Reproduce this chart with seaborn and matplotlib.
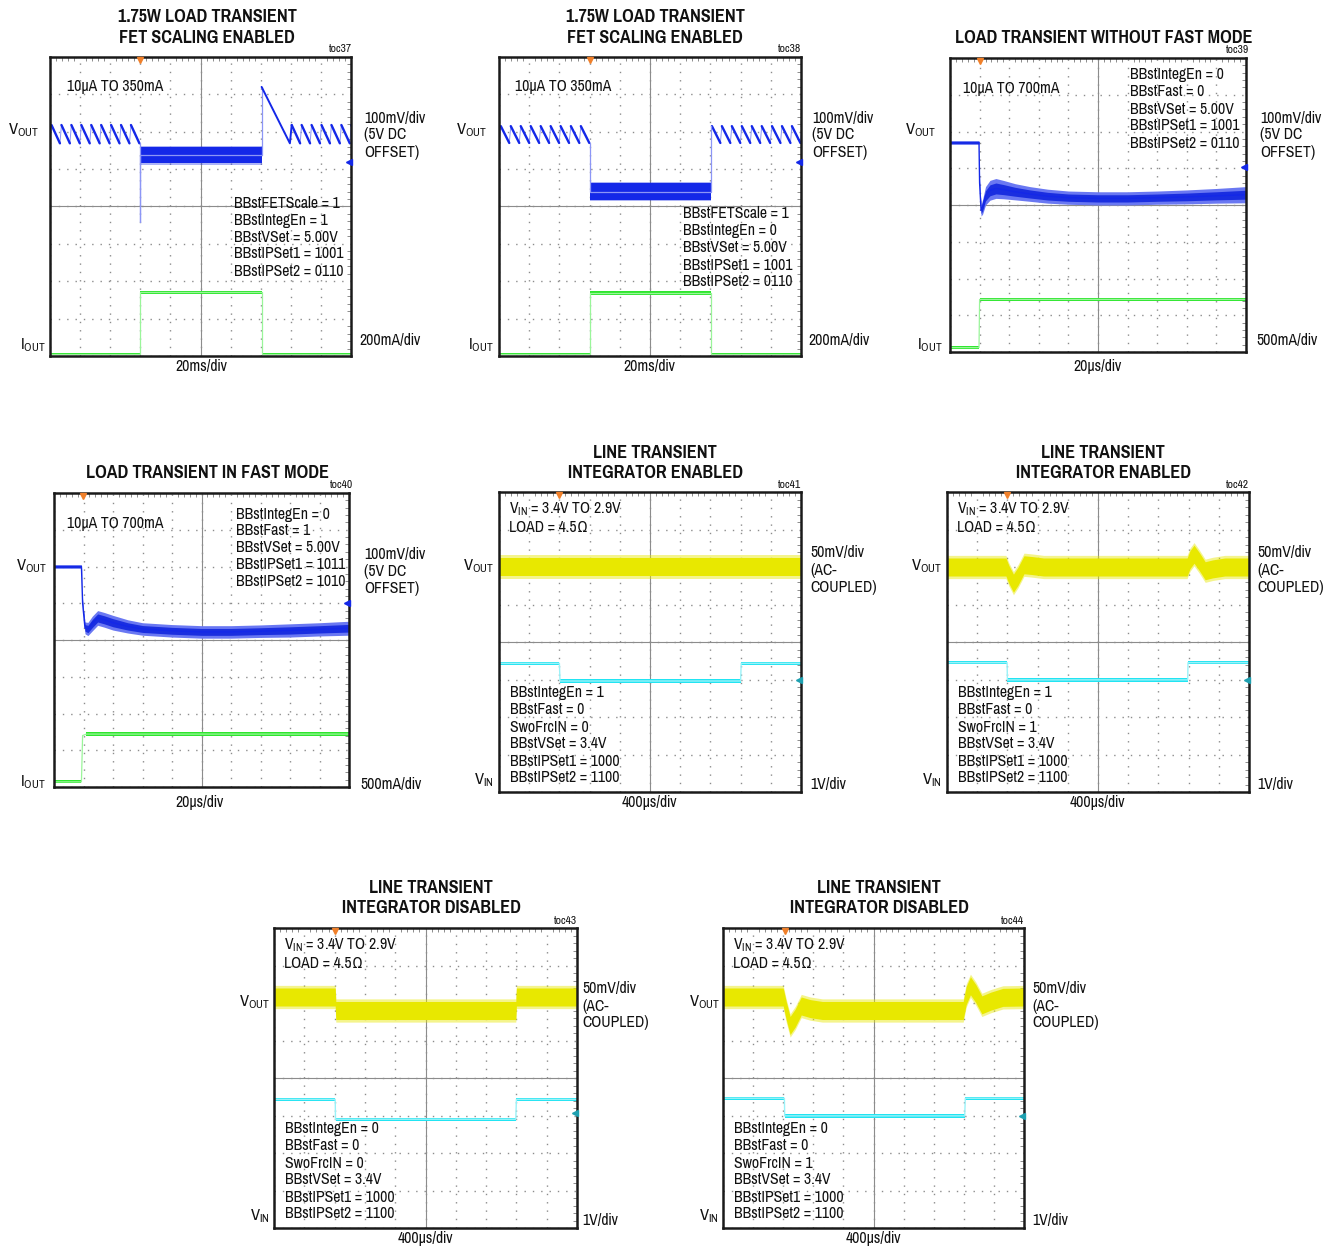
import numpy as np
import matplotlib
matplotlib.use("Agg")
import matplotlib.pyplot as plt
import seaborn as sns

sns.set_style("white")
plt.rcParams["font.family"] = ["Pragati Narrow", "PT Sans Narrow", "Liberation Sans Narrow",
                               "Liberation Sans", "DejaVu Sans"]
plt.rcParams["mathtext.default"] = "regular"

W, H = 1335, 1247

# ---- waveform data (in scope divisions: x 0..10, y 0..8) ----
BLUE = "#1428e8"
BLUE_LT = "#8c96f6"
GREEN = "#2ee62e"
GREEN_LT = "#9af59a"
YELLOW = "#e8e800"
CYAN = "#22e4f2"
ORANGE = "#f0802a"
TEAL = "#1ea0b0"

# toc37
p1_saw_left = [-0.28, 0.05, 0.38, 0.71, 1.04, 1.37, 1.70, 2.03, 2.36, 2.69]
p1_saw_right = [8.03, 8.36, 8.69, 9.02, 9.35, 9.68, 10.01]
p1_saw_top, p1_saw_bot = 6.18, 5.69
p1_load_on, p1_load_off = 3.0, 7.03
p1_band_mid, p1_band_hw = 5.37, 0.21
p1_spike_min = 3.58
p1_recover_peak = 7.2
p1_iout_lo, p1_iout_hi = 0.05, 1.70

# toc38
p2_saw_left = [-0.27, 0.06, 0.39, 0.72, 1.05, 1.38, 1.71, 2.04, 2.38, 2.71]
p2_saw_right = [7.05, 7.38, 7.71, 8.04, 8.37, 8.70, 9.04, 9.37, 9.70, 10.03]
p2_saw_top, p2_saw_bot = 6.15, 5.70
p2_load_on, p2_load_off = 3.0, 7.01
p2_band_mid, p2_band_hw = 4.40, 0.22
p2_iout_lo, p2_iout_hi = 0.05, 1.68

# toc39
p3_vout_x = [0, 0.98, 1.0, 1.05, 1.1, 1.2, 1.35, 1.55, 1.8, 2.2, 2.7, 3.3, 4.0, 5.0, 6.0, 7.0, 8.0, 9.0, 10.0]
p3_vout_y = [5.7, 5.7, 4.6, 3.85, 3.95, 4.25, 4.4, 4.45, 4.42, 4.36, 4.3, 4.24, 4.2, 4.18, 4.18, 4.2, 4.22, 4.25, 4.28]
p3_vout_hw = [0.05, 0.05, 0.1, 0.15, 0.2, 0.25, 0.27, 0.27, 0.25, 0.22, 0.2, 0.19, 0.18, 0.18, 0.18, 0.18, 0.19, 0.2, 0.22]
p3_iout_x = [0, 0.98, 1.0, 10]
p3_iout_y = [0.12, 0.12, 1.43, 1.43]

# toc40
p4_vout_x = [0, 0.93, 0.97, 1.05, 1.15, 1.3, 1.48, 1.7, 2.0, 2.5, 3.0, 4.0, 5.0, 6.0, 7.0, 8.0, 9.0, 10.0]
p4_vout_y = [6.0, 6.0, 5.0, 4.33, 4.3, 4.45, 4.6, 4.55, 4.47, 4.37, 4.3, 4.25, 4.22, 4.22, 4.24, 4.26, 4.29, 4.32]
p4_vout_hw = [0.05, 0.05, 0.08, 0.16, 0.18, 0.2, 0.2, 0.2, 0.2, 0.18, 0.17, 0.17, 0.17, 0.17, 0.17, 0.18, 0.18, 0.19]
p4_iout_x = [0, 0.93, 0.97, 1.1, 10]
p4_iout_y = [0.14, 0.14, 1.40, 1.44, 1.44]

# toc41 .. toc44 (line transient)
p5_vout_x = [0, 10]
p5_vout_y = [6.0, 6.0]
p5_vin_x = [0, 2.0, 2.02, 8.0, 8.02, 10]
p5_vin_y = [3.43, 3.43, 2.96, 2.96, 3.43, 3.43]

p6_vout_x = [0, 1.95, 2.05, 2.2, 2.35, 2.55, 2.8, 3.2, 7.95, 8.05, 8.18, 8.35, 8.55, 8.8, 9.2, 10]
p6_vout_y = [6.0, 6.0, 5.8, 5.57, 5.75, 6.06, 6.04, 6.0, 6.0, 6.2, 6.34, 6.15, 5.9, 5.95, 6.0, 6.0]
p6_vin_x = [0, 1.99, 2.0, 7.97, 7.98, 10]
p6_vin_y = [3.45, 3.45, 2.99, 2.99, 3.45, 3.45]

p7_vout_x = [0, 2.02, 2.04, 7.98, 8.0, 10]
p7_vout_y = [6.16, 6.16, 5.80, 5.80, 6.16, 6.16]
p7_vin_x = [0, 2.02, 2.03, 7.98, 8.0, 10]
p7_vin_y = [3.43, 3.43, 2.90, 2.90, 3.43, 3.43]

p8_vout_x = [0, 2.0, 2.1, 2.23, 2.4, 2.6, 2.9, 3.3, 7.98, 8.08, 8.22, 8.4, 8.6, 8.9, 9.3, 10]
p8_vout_y = [6.16, 6.16, 5.8, 5.4, 5.6, 5.92, 5.85, 5.8, 5.8, 6.2, 6.46, 6.25, 5.95, 6.05, 6.15, 6.16]
p8_vin_x = [0, 2.04, 2.05, 8.03, 8.05, 10]
p8_vin_y = [3.46, 3.46, 2.99, 2.99, 3.46, 3.46]

ac_band_hw = 0.24
vin_hw = 0.045

# trigger position (top marker) and ground reference (right marker) for each scope
trig_x = [3.0, 3.0, 1.0, 0.97, 2.0, 2.0, 2.0, 2.05]
ref_y = [5.2, 5.2, 5.04, 5.02, 3.0, 3.0, 3.06, 3.0]
ref_col = [BLUE, BLUE, BLUE, BLUE, TEAL, TEAL, TEAL, TEAL]

# frames in pixels (left, top, right, bottom)
boxes = [(50, 57, 351, 356), (499, 57, 801, 356), (950, 58, 1246, 352),
         (54, 493, 349, 787), (499, 492, 801, 792), (947, 492, 1249, 792),
         (274, 928, 577, 1228), (723, 928, 1024, 1228)]

load_params_a = ["BBstFETScale = 1", "BBstIntegEn = 1", "BBstVSet = 5.00V",
                 "BBstIPSet1 = 1001", "BBstIPSet2 = 0110"]
load_params_b = ["BBstFETScale = 1", "BBstIntegEn = 0", "BBstVSet = 5.00V",
                 "BBstIPSet1 = 1001", "BBstIPSet2 = 0110"]
load_params_c = ["BBstIntegEn = 0", "BBstFast = 0", "BBstVSet = 5.00V",
                 "BBstIPSet1 = 1001", "BBstIPSet2 = 0110"]
load_params_d = ["BBstIntegEn = 0", "BBstFast = 1", "BBstVSet = 5.00V",
                 "BBstIPSet1 = 1011", "BBstIPSet2 = 1010"]
line_params = [
    ["BBstIntegEn = 1", "BBstFast = 0", "SwoFrcIN = 0", "BBstVSet = 3.4V", "BBstIPSet1 = 1000", "BBstIPSet2 = 1100"],
    ["BBstIntegEn = 1", "BBstFast = 0", "SwoFrcIN = 1", "BBstVSet = 3.4V", "BBstIPSet1 = 1000", "BBstIPSet2 = 1100"],
    ["BBstIntegEn = 0", "BBstFast = 0", "SwoFrcIN = 0", "BBstVSet = 3.4V", "BBstIPSet1 = 1000", "BBstIPSet2 = 1100"],
    ["BBstIntegEn = 0", "BBstFast = 0", "SwoFrcIN = 1", "BBstVSet = 3.4V", "BBstIPSet1 = 1000", "BBstIPSet2 = 1100"],
]

fig = plt.figure(figsize=(W / 100, H / 100), dpi=100)
fig.patch.set_facecolor("white")

BODY = 12.3


def put(x, y, s, ha="left", va="center", size=BODY, **kw):
    fig.text(x / W, 1 - y / H, s, ha=ha, va=va, fontsize=size, color="#111111", **kw)


def scope(box):
    x0, y0, x1, y1 = box
    rect = [x0 / W, 1 - y1 / H, (x1 - x0) / W, (y1 - y0) / H]
    # center cross with division ticks
    cx = fig.add_axes(rect, zorder=0)
    cx.set_xlim(0, 10)
    cx.set_ylim(0, 8)
    for side in ["top", "right"]:
        cx.spines[side].set_visible(False)
    cx.spines["left"].set_position(("data", 5))
    cx.spines["bottom"].set_position(("data", 4))
    for side in ["left", "bottom"]:
        cx.spines[side].set_color("#8c8c8c")
        cx.spines[side].set_linewidth(0.8)
    cx.set_xticks(np.arange(0, 10.01, 0.2))
    cx.set_yticks(np.arange(0, 8.01, 0.2))
    cx.tick_params(direction="inout", length=5, width=0.7, color="#8c8c8c",
                   labelbottom=False, labelleft=False)
    # graticule + frame
    ax = fig.add_axes(rect, zorder=1)
    ax.set_facecolor("none")
    ax.set_xlim(0, 10)
    ax.set_ylim(0, 8)
    ax.set_xticks(range(11))
    ax.set_yticks(range(9))
    ax.set_xticks(np.arange(0, 10.01, 0.2), minor=True)
    ax.set_yticks(np.arange(0, 8.01, 0.2), minor=True)
    ax.grid(True, which="major", color="#8c8c8c", linestyle=(0, (1, 5)), lw=1.0)
    ax.tick_params(which="both", direction="in", top=True, right=True,
                   labelbottom=False, labelleft=False, color="#8c8c8c")
    ax.tick_params(which="major", length=0)
    ax.tick_params(which="minor", length=3, width=0.7)
    for s in ax.spines.values():
        s.set_linewidth(1.8)
        s.set_color("#1a1a1a")
    return ax


def trace(ax, x, y, color, lw):
    sns.lineplot(x=x, y=y, ax=ax, color=color, lw=lw, estimator=None,
                 sort=False, legend=False)


def saw(ax, starts, top, bot, ramp=0.28):
    # faint retrace through the whole train, bold falling ramps
    xs, ys = [], []
    for s in starts:
        xs += [s, s + ramp]
        ys += [top, bot]
    trace(ax, xs, ys, BLUE_LT, 0.7)
    for s in starts:
        trace(ax, [s, s + ramp], [top, bot], BLUE, 1.7)


def band(ax, x, y, hw, color, alpha=1.0):
    x = np.asarray(x, float)
    y = np.asarray(y, float)
    hw = np.asarray(hw, float) * np.ones_like(y)
    ax.fill_between(x, y - hw, y + hw, color=color, lw=0, alpha=alpha)


def markers(ax, i):
    ax.plot([trig_x[i]], [7.93], marker="v", color=ORANGE, ms=5, clip_on=False, zorder=5)
    ax.plot([9.93], [ref_y[i]], marker="<", color=ref_col[i], ms=5, clip_on=False, zorder=5)


axes = [scope(b) for b in boxes]

# ---- toc37 / toc38 : sawtooth VOUT, square IOUT ----
for ax, left, right, top, bot, on, off, mid, hw, lo, hi, p in [
    (axes[0], p1_saw_left, p1_saw_right, p1_saw_top, p1_saw_bot, p1_load_on, p1_load_off,
     p1_band_mid, p1_band_hw, p1_iout_lo, p1_iout_hi, 1),
    (axes[1], p2_saw_left, p2_saw_right, p2_saw_top, p2_saw_bot, p2_load_on, p2_load_off,
     p2_band_mid, p2_band_hw, p2_iout_lo, p2_iout_hi, 2),
]:
    saw(ax, left, top, bot)
    saw(ax, right, top, bot)
    if p == 1:
        trace(ax, [on, on, on, off, off], [bot, p1_spike_min, mid, mid, p1_recover_peak], BLUE_LT, 0.9)
        trace(ax, [off, 7.97, 8.03], [p1_recover_peak, bot, top], BLUE, 1.4)
    else:
        trace(ax, [on, on, off, off], [bot, mid, mid, top], BLUE_LT, 0.9)
    band(ax, [on, off], [mid, mid], hw + 0.04, BLUE, alpha=0.35)
    band(ax, [on, off], [mid, mid], hw, BLUE)
    trace(ax, [0, on, on, off, off, 10], [lo, lo, hi, hi, lo, lo], GREEN_LT, 0.9)
    band(ax, [on, off], [hi, hi], 0.05, GREEN)
    band(ax, [0, on], [lo, lo], 0.025, GREEN)
    band(ax, [off, 10], [lo, lo], 0.025, GREEN)

# ---- toc39 / toc40 : load transient VOUT band, IOUT step ----
for ax, vx, vy, vhw, ix, iy in [(axes[2], p3_vout_x, p3_vout_y, p3_vout_hw, p3_iout_x, p3_iout_y),
                                (axes[3], p4_vout_x, p4_vout_y, p4_vout_hw, p4_iout_x, p4_iout_y)]:
    band(ax, vx, vy, vhw, "#6a78f2")
    band(ax, vx, vy, np.asarray(vhw) * 0.55, "#1a2ee0")
    trace(ax, vx, vy, BLUE, 1.0)
    trace(ax, ix, iy, GREEN_LT, 0.9)
    band(ax, ix[-2:], iy[-2:], 0.05, GREEN)
    band(ax, ix[:2], iy[:2], 0.04, GREEN)

# ---- toc41..toc44 : line transient ----
for ax, vx, vy, ix, iy in [(axes[4], p5_vout_x, p5_vout_y, p5_vin_x, p5_vin_y),
                           (axes[5], p6_vout_x, p6_vout_y, p6_vin_x, p6_vin_y),
                           (axes[6], p7_vout_x, p7_vout_y, p7_vin_x, p7_vin_y),
                           (axes[7], p8_vout_x, p8_vout_y, p8_vin_x, p8_vin_y)]:
    band(ax, vx, vy, ac_band_hw + 0.07, YELLOW, alpha=0.45)
    band(ax, vx, vy, ac_band_hw, YELLOW)
    trace(ax, ix, iy, "#9af2f8", 1.0)
    for a, b in [(0, 2), (2, 4), (4, 6)]:
        band(ax, ix[a:b], iy[a:b], vin_hw, CYAN)

for i, ax in enumerate(axes):
    markers(ax, i)

# ---- text ----
TB = dict(size=14.2, fontweight="bold", ha="center")
TOC = 9
SUB = 13

# toc37
put(207, 17, "1.75W LOAD TRANSIENT", **TB)
put(207, 38, "FET SCALING ENABLED", **TB)
put(352, 49, "toc37", ha="right", size=TOC)
put(67, 87, "10µA TO 350mA")
put(8, 130, "V$_{OUT}$", size=SUB)
put(20, 345, "I$_{OUT}$", size=SUB)
for k, s in enumerate(["100mV/div", "(5V DC", "OFFSET)"]):
    put(364, 118 + 17 * k, s)
put(359, 341, "200mA/div")
put(201, 367, "20ms/div", ha="center")
for k, s in enumerate(load_params_a):
    put(234, 203 + 17 * k, s)

# toc38
put(655, 17, "1.75W LOAD TRANSIENT", **TB)
put(655, 38, "FET SCALING ENABLED", **TB)
put(801, 49, "toc38", ha="right", size=TOC)
put(515, 87, "10µA TO 350mA")
put(456, 130, "V$_{OUT}$", size=SUB)
put(468, 345, "I$_{OUT}$", size=SUB)
for k, s in enumerate(["100mV/div", "(5V DC", "OFFSET)"]):
    put(812, 118 + 17 * k, s)
put(808, 341, "200mA/div")
put(649, 367, "20ms/div", ha="center")
for k, s in enumerate(load_params_b):
    put(683, 214 + 17 * k, s)

# toc39
put(1104, 38, "LOAD TRANSIENT WITHOUT FAST MODE", **TB)
put(1249, 50, "toc39", ha="right", size=TOC)
put(963, 88, "10µA TO 700mA")
for k, s in enumerate(load_params_c):
    put(1130, 75 + 17 * k, s)
put(905, 130, "V$_{OUT}$", size=SUB)
put(917, 345, "I$_{OUT}$", size=SUB)
for k, s in enumerate(["100mV/div", "(5V DC", "OFFSET)"]):
    put(1260, 118 + 17 * k, s)
put(1256, 341, "500mA/div")
put(1097, 367, "20µs/div", ha="center")

# toc40
put(208, 473, "LOAD TRANSIENT IN FAST MODE", **TB)
put(353, 485, "toc40", ha="right", size=TOC)
put(67, 523, "10µA TO 700mA")
for k, s in enumerate(load_params_d):
    put(236, 514 + 17 * k, s)
put(16, 566, "V$_{OUT}$", size=SUB)
put(20, 782, "I$_{OUT}$", size=SUB)
for k, s in enumerate(["100mV/div", "(5V DC", "OFFSET)"]):
    put(364, 554 + 17 * k, s)
put(360, 784, "500mA/div")
put(200, 802, "20µs/div", ha="center")

# toc41 .. toc44
line_title2 = ["INTEGRATOR ENABLED", "INTEGRATOR ENABLED", "INTEGRATOR DISABLED", "INTEGRATOR DISABLED"]
line_tags = ["toc41", "toc42", "toc43", "toc44"]
line_pos = [  # title cx, title y, frame left, frame right, vout x, vin x, right label x, frame top, div-label cx
    (655, 453, 499, 801, 463, 474, 810, 492, 649),
    (1103, 453, 947, 1249, 911, 922, 1257, 492, 1097),
    (431, 888, 274, 577, 239, 250, 582, 928, 425),
    (879, 888, 723, 1024, 689, 699, 1032, 928, 873),
]
for j, (tcx, ty, fl, fr, vl, il, rl, ft, dcx) in enumerate(line_pos):
    put(tcx, ty, "LINE TRANSIENT", **TB)
    put(tcx, ty + 20, line_title2[j], **TB)
    put(fr, ft - 7, line_tags[j], ha="right", size=TOC)
    put(fl + 10, ft + 17, "V$_{IN}$ = 3.4V TO 2.9V")
    put(fl + 10, ft + 36, "LOAD = 4.5Ω")
    put(vl, ft + 74, "V$_{OUT}$", size=SUB)
    put(il, ft + 288, "V$_{IN}$", size=SUB)
    for k, s in enumerate(["50mV/div", "(AC-", "COUPLED)"]):
        put(rl, ft + 61 + 17 * k, s)
    put(rl, ft + 292, "1V/div")
    put(dcx, ft + 310, "400µs/div", ha="center")
    for k, s in enumerate(line_params[j]):
        put(fl + 11, ft + 201 + 17 * k, s)

fig.savefig("out.png", dpi=100, facecolor="white")
